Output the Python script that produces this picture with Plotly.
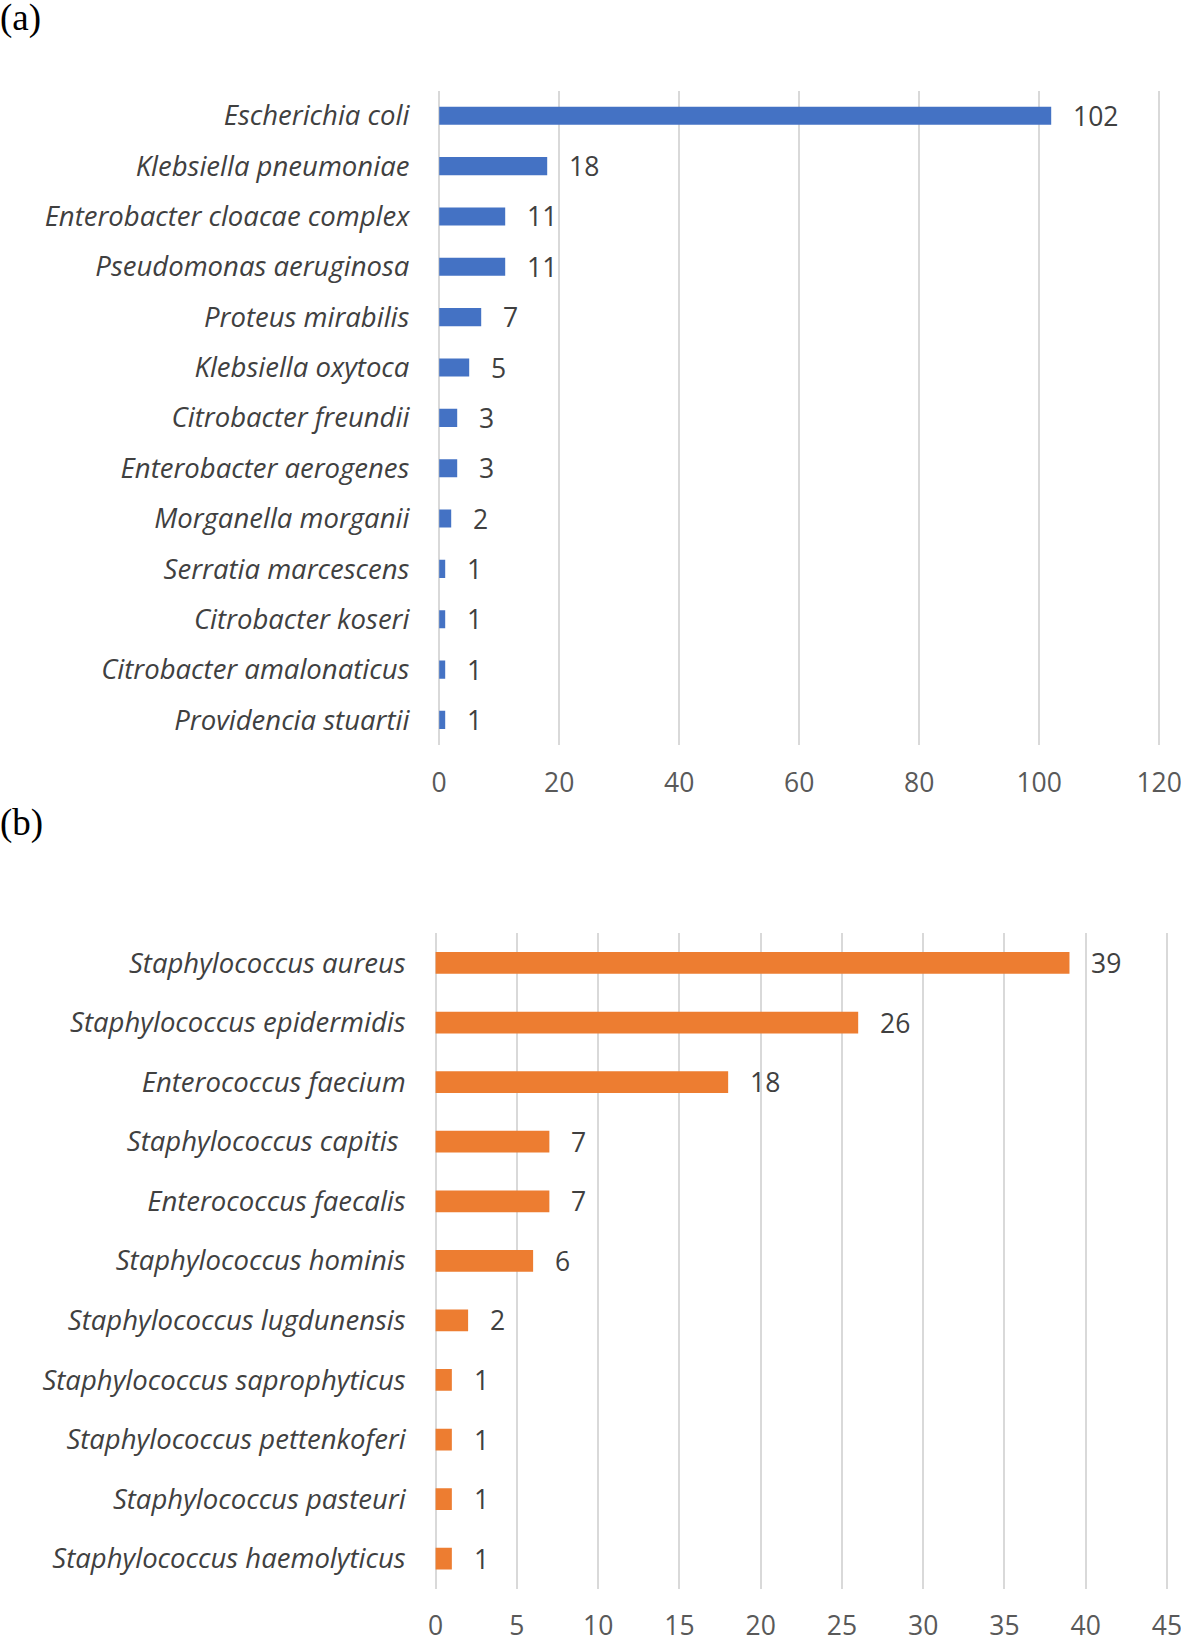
import plotly.graph_objects as go

# ---- Data ----
gram_neg_species = [
    "Escherichia coli", "Klebsiella pneumoniae", "Enterobacter cloacae complex",
    "Pseudomonas aeruginosa", "Proteus mirabilis", "Klebsiella oxytoca",
    "Citrobacter freundii", "Enterobacter aerogenes", "Morganella morganii",
    "Serratia marcescens", "Citrobacter koseri", "Citrobacter amalonaticus",
    "Providencia stuartii",
]
gram_neg_counts = [102, 18, 11, 11, 7, 5, 3, 3, 2, 1, 1, 1, 1]
gram_neg_ticks = [0, 20, 40, 60, 80, 100, 120]

gram_pos_species = [
    "Staphylococcus aureus", "Staphylococcus epidermidis", "Enterococcus faecium",
    "Staphylococcus capitis ", "Enterococcus faecalis", "Staphylococcus hominis",
    "Staphylococcus lugdunensis", "Staphylococcus saprophyticus",
    "Staphylococcus pettenkoferi", "Staphylococcus pasteuri",
    "Staphylococcus haemolyticus",
]
gram_pos_counts = [39, 26, 18, 7, 7, 6, 2, 1, 1, 1, 1]
gram_pos_ticks = [0, 5, 10, 15, 20, 25, 30, 35, 40, 45]

panel_labels = ["(a)", "(b)"]

BLUE = "#4472C4"
ORANGE = "#ED7D31"
LABEL_COLOR = "#404040"
TICK_COLOR = "#595959"
GRID = "#D9D9D9"
FONT = "Open Sans"

W, H = 1181, 1636

# pixel placement of the value axes (value 0 position, pixels per unit, padded range)
a_x0, a_k, a_lo, a_hi = 439.2, 6.0, -0.3, 120.3
b_x0, b_k, b_lo, b_hi = 435.6, (1167.0 - 435.6) / 45.0, -0.12, 45.12

fig = go.Figure()

fig.add_trace(go.Bar(
    x=gram_neg_counts, y=gram_neg_species, orientation="h",
    marker=dict(color=BLUE, line=dict(width=0)), width=0.36,
    xaxis="x", yaxis="y", hoverinfo="x+y",
))
fig.add_trace(go.Bar(
    x=gram_pos_counts, y=gram_pos_species, orientation="h",
    marker=dict(color=ORANGE, line=dict(width=0)), width=0.365,
    xaxis="x2", yaxis="y2", hoverinfo="x+y",
))

annotations = []
for sp, v in zip(gram_neg_species, gram_neg_counts):
    annotations.append(dict(x=v, y=sp, xref="x", yref="y", text=str(v),
                            showarrow=False, xanchor="left", yanchor="middle",
                            xshift=20, font=dict(family=FONT, size=26.5, color=LABEL_COLOR)))
for sp, v in zip(gram_pos_species, gram_pos_counts):
    annotations.append(dict(x=v, y=sp, xref="x2", yref="y2", text=str(v),
                            showarrow=False, xanchor="left", yanchor="middle",
                            xshift=20, font=dict(family=FONT, size=26.5, color=LABEL_COLOR)))

annotations.append(dict(x=0, y=1 - 18 / H, xref="paper", yref="paper", text=panel_labels[0],
                        showarrow=False, xanchor="left", yanchor="middle", xshift=-2,
                        font=dict(family="Liberation Serif", size=37, color="#000000")))
annotations.append(dict(x=0, y=1 - 823 / H, xref="paper", yref="paper", text=panel_labels[1],
                        showarrow=False, xanchor="left", yanchor="middle", xshift=-2,
                        font=dict(family="Liberation Serif", size=37, color="#000000")))

xcommon = dict(showgrid=True, gridcolor=GRID, gridwidth=1.6, zeroline=False,
               showline=False, ticks="", ticklabelstandoff=19, automargin=False,
               ticklabeloverflow="allow",
               tickfont=dict(family=FONT, size=26.5, color=TICK_COLOR), fixedrange=True)
ycommon = dict(showgrid=False, zeroline=False, showline=False, ticks="",
               ticklabelstandoff=27, autorange="reversed", automargin=False,
               tickfont=dict(family=FONT, size=27.5, color=LABEL_COLOR, style="italic"),
               fixedrange=True)

fig.update_layout(
    width=W, height=H,
    margin=dict(l=0, r=0, t=0, b=0, pad=0),
    paper_bgcolor="white", plot_bgcolor="white",
    showlegend=False,
    bargap=0.64,
    xaxis=dict(domain=[(a_x0 + a_lo * a_k) / W, (a_x0 + a_hi * a_k) / W], range=[a_lo, a_hi],
               tickvals=gram_neg_ticks, anchor="y", **xcommon),
    yaxis=dict(domain=[1 - 745.1 / H, 1 - 90.6 / H], anchor="x", **ycommon),
    xaxis2=dict(domain=[(b_x0 + b_lo * b_k) / W, min(1.0, (b_x0 + b_hi * b_k) / W)],
                range=[b_lo, b_hi], tickvals=gram_pos_ticks, anchor="y2", **xcommon),
    yaxis2=dict(domain=[1 - 1588.5 / H, 1 - 933.2 / H], anchor="x2", **ycommon),
    annotations=annotations,
)

fig.write_html(
    "out.html",
    config={"displayModeBar": False},
    post_script="document.body.style.margin='0';document.body.style.overflow='hidden';",
)
